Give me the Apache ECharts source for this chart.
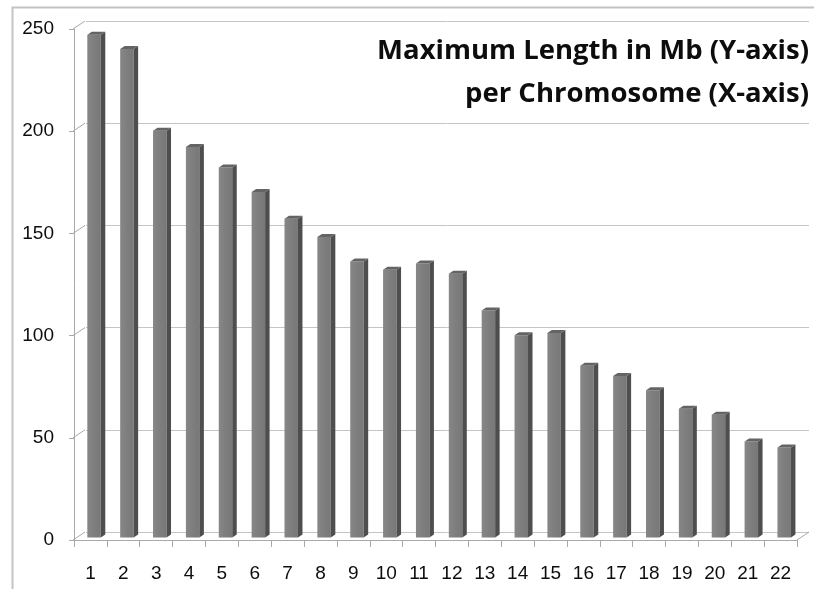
<!DOCTYPE html>
<html>
<head>
<meta charset="utf-8">
<script src="https://cdn.jsdelivr.net/npm/echarts@6/dist/echarts.min.js"></script>
<style>
  html, body { margin: 0; padding: 0; background: #ffffff; }
  #chart { width: 814px; height: 589px; }
</style>
</head>
<body>
<div id="chart"></div>
<script>
// Chromosome numbers along the floor of the chart
const categories = ['1', '2', '3', '4', '5', '6', '7', '8', '9', '10', '11',
                    '12', '13', '14', '15', '16', '17', '18', '19', '20', '21', '22'];
// Maximum length per chromosome, in Mb
const maxLengthMb = [246, 239, 199, 191, 181, 169, 156, 147, 135, 131, 134,
                     129, 111, 99, 100, 84, 79, 72, 63, 60, 47, 44];
// Value-axis ticks
const yTicks = [0, 50, 100, 150, 200, 250];

const titleLines = ['Maximum Length in Mb (Y-axis)', 'per Chromosome (X-axis)'];

// Oblique depth of the 3-D box (back wall is shifted right and up)
const DEPTH_X = 12;
const DEPTH_Y = 8;
const AXIS_COLOR = '#a9a9a9';
const GRID_COLOR = '#c4c4c4';
const LABEL_FONT = '"Liberation Sans", Arial, sans-serif';

const chart = echarts.init(document.getElementById('chart'), null, { renderer: 'canvas' });

const FRONT = { left: 74, top: 29, width: 723, height: 511 };
const BACK = { left: FRONT.left + DEPTH_X, top: FRONT.top - DEPTH_Y, width: FRONT.width, height: FRONT.height };

// 3-D column: front face, dark right side, top face
function renderColumn(params, api) {
  const idx = api.value(0);
  const val = api.value(1);
  const base = api.coord([idx, 0]);
  const top = api.coord([idx, val]);
  const band = api.size([1, 0])[0];
  const w = band * 0.41;
  const cx = base[0] + band * 0.11;
  const lift = -2.5;
  const xl = cx - w / 2, xr = cx + w / 2;
  const yb = base[1] + lift, yt = top[1] + lift;
  const dx = 4.5, dy = 3;
  return {
    type: 'group',
    children: [
      { type: 'rect', shape: { x: xl, y: yt, width: w, height: yb - yt },
        style: { fill: new echarts.graphic.LinearGradient(0, 0, 1, 0, [
          { offset: 0, color: '#878787' }, { offset: 0.5, color: '#7e7e7e' }, { offset: 1, color: '#787878' }]) } },
      { type: 'polygon', shape: { points: [[xr, yb], [xr + dx, yb - dy], [xr + dx, yt - dy], [xr, yt]] },
        style: { fill: '#4e4e4e' } },
      { type: 'polygon', shape: { points: [[xl, yt], [xr, yt], [xr + dx, yt - dy], [xl + dx, yt - dy]] },
        style: { fill: '#646464' } }
    ]
  };
}

// Short diagonals joining the front value axis to the back wall, plus the floor's right edge
function renderConnectors(params, api) {
  const v = api.value(1);
  const p = api.coord([0, v]);
  const cs = params.coordSys;
  const children = [{
    type: 'line',
    shape: { x1: cs.x - 1, y1: p[1], x2: cs.x - 1 + DEPTH_X, y2: p[1] - DEPTH_Y },
    style: { stroke: AXIS_COLOR, lineWidth: 1 }
  }];
  if (v === 0) {
    children.push({
      type: 'line',
      shape: { x1: cs.x + cs.width, y1: p[1], x2: cs.x + cs.width + DEPTH_X, y2: p[1] - DEPTH_Y },
      style: { stroke: AXIS_COLOR, lineWidth: 1 }
    });
  }
  return { type: 'group', children };
}

const option = {
  animation: false,
  backgroundColor: '#ffffff',
  grid: [
    { left: FRONT.left, top: FRONT.top, width: FRONT.width, height: FRONT.height },
    { left: BACK.left, top: BACK.top, width: BACK.width, height: BACK.height }
  ],
  xAxis: [
    {
      type: 'category', gridIndex: 0, data: categories,
      axisLine: { show: true, lineStyle: { color: AXIS_COLOR, width: 1 } },
      axisTick: { show: true, length: 7, lineStyle: { color: AXIS_COLOR } },
      axisLabel: { fontSize: 19, color: '#0d0d0d', margin: 24, fontFamily: LABEL_FONT },
      splitLine: { show: false }
    },
    { type: 'category', gridIndex: 1, data: categories, show: false }
  ],
  yAxis: [
    {
      type: 'value', gridIndex: 0, min: 0, max: 250, interval: 50,
      axisLine: { show: true, lineStyle: { color: AXIS_COLOR, width: 1 } },
      axisTick: { show: true, length: 5, lineStyle: { color: AXIS_COLOR } },
      axisLabel: { fontSize: 19, color: '#0d0d0d', margin: 20, fontFamily: LABEL_FONT,
                   verticalAlign: 'middle', padding: [6, 0, 0, 0] },
      splitLine: { show: false }
    },
    {
      type: 'value', gridIndex: 1, min: 0, max: 250, interval: 50,
      axisLine: { show: false }, axisTick: { show: false }, axisLabel: { show: false },
      splitLine: { show: true, lineStyle: { color: GRID_COLOR, width: 1 } }
    }
  ],
  graphic: [
    {
      type: 'rect', left: 10, top: 5, z: -10,
      shape: { width: 830, height: 620 },
      style: { fill: 'none', stroke: '#c3c3c3', lineWidth: 2 }
    },
    {
      type: 'text', right: 5, top: 30, z: 10,
      style: {
        text: titleLines.join('\n'),
        font: 'bold 27.5px "Open Sans", sans-serif',
        lineHeight: 43,
        textAlign: 'right',
        fill: '#0d0d0d'
      }
    }
  ],
  series: [
    {
      type: 'custom', xAxisIndex: 0, yAxisIndex: 0, clip: false, z: 3,
      renderItem: renderConnectors,
      data: yTicks.map(v => [0, v]),
      encode: { x: 0, y: 1 },
      silent: true
    },
    {
      type: 'custom', xAxisIndex: 0, yAxisIndex: 0, clip: false, z: 5,
      renderItem: renderColumn,
      data: maxLengthMb.map((v, i) => [i, v]),
      encode: { x: 0, y: 1 }
    }
  ]
};

chart.setOption(option);
</script>
</body>
</html>
